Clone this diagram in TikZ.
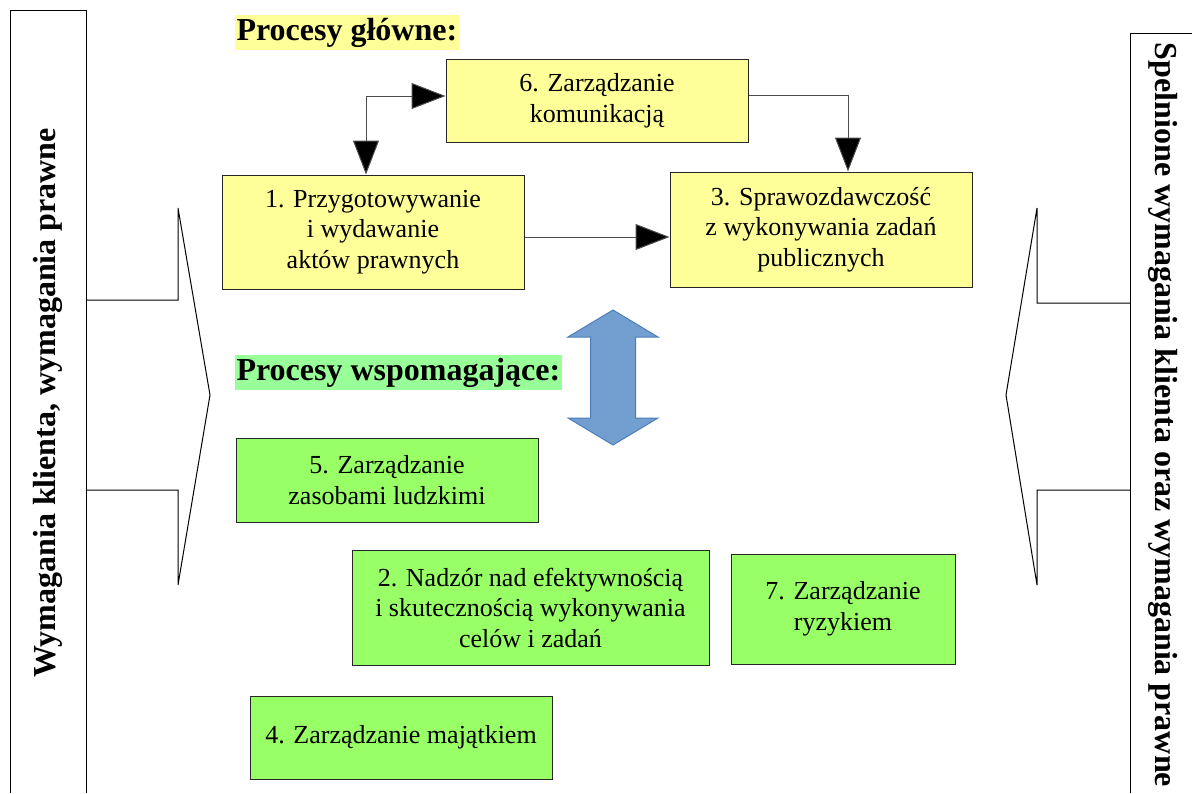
\documentclass[tikz,border=0pt]{standalone}
\usepackage{fontspec}
\setmainfont{Liberation Serif}
\usetikzlibrary{arrows.meta}
\definecolor{boxyellow}{HTML}{FFFF99}
\definecolor{boxgreen}{HTML}{99FF66}
\definecolor{headgreen}{HTML}{99FF99}
\definecolor{arrowblue}{HTML}{729FCF}
\definecolor{arrowedge}{HTML}{4A7EBB}

\begin{document}
\begin{tikzpicture}
	[x=1pt, y=-1pt, line width=1pt,
	 every node/.style={font=\fontsize{26}{30.5}\selectfont, align=center},
	 mainbox/.style={draw=black!85, fill=boxyellow, inner sep=0pt},
	 supportbox/.style={draw=black!85, fill=boxgreen, inner sep=0pt},
	 heading/.style={font=\fontsize{32}{36}\selectfont\bfseries, inner xsep=2pt, inner ysep=0pt, minimum height=35pt, anchor=west},
	 sidetext/.style={font=\fontsize{32}{36}\selectfont\bfseries},
	 flow/.style={draw=black!70, -{Triangle[length=34pt,width=26pt,fill=black]}}]
	\useasboundingbox (0,0) rectangle (1192,793);

	% side frames
	\draw (86,793) -- (86,10) -- (10,10) -- (10,793);
	\draw (1130,793) -- (1130,33) -- (1192,33);
	\node[sidetext, rotate=90] (input) at (48,403) {Wymagania klienta, wymagania prawne};
	\node[sidetext, rotate=-90] (output) at (1163,415) {Spelnione wymagania klienta oraz wymagania prawne};

	% big open arrows
	\draw (86,300) -- (178,300) -- (178,208) -- (210,395) -- (178,585) -- (178,490) -- (86,490);
	\draw (1130,303) -- (1037,303) -- (1037,208) -- (1006,395) -- (1037,585) -- (1037,490) -- (1130,490);

	% headings
	\node[heading, fill=boxyellow] (mainhead) at (234,32.5) {Procesy główne:};
	\node[heading, fill=headgreen] (supphead) at (234,372.5) {Procesy wspomagające:};

	% main processes
	\node[mainbox, minimum width=302pt, minimum height=83pt] (p6) at (597,100.5) {6. Zarządzanie\\komunikacją};
	\node[mainbox, minimum width=302pt, minimum height=114pt] (p1) at (373,232) {1. Przygotowywanie\\i wydawanie\\aktów prawnych};
	\node[mainbox, minimum width=302pt, minimum height=115pt] (p3) at (821,229.5) {3. Sprawozdawczość\\z wykonywania zadań\\publicznych};

	\coordinate (c61) at (366,96);
	\coordinate (c63) at (848,95);
	\coordinate (c13) at (524,237);
	\draw[flow, {Triangle[length=34pt,width=26pt,fill=black]}-{Triangle[length=34pt,width=26pt,fill=black]}]
		(c61 |- p1.north) -- (c61) -- (c61 -| p6.west);
	\draw[flow] (c63 -| p6.east) -- (c63) -- (c63 |- p3.north);
	\draw[flow] (c13 -| p1.east) -- (c13 -| p3.west);

	% link between main and supporting processes
	\draw[fill=arrowblue, draw=arrowedge] (613,310) -- (658,337) -- (635.5,337) -- (635.5,418) -- (658,418)
		-- (613,445) -- (568,418) -- (590.5,418) -- (590.5,337) -- (568,337) -- cycle;

	% supporting processes
	\node[supportbox, minimum width=302pt, minimum height=84pt] (p5) at (387,480) {5. Zarządzanie\\zasobami ludzkimi};
	\node[supportbox, minimum width=357pt, minimum height=115pt] (p2) at (530.5,607.5) {2. Nadzór nad efektywnością\\i skutecznością wykonywania\\celów i zadań};
	\node[supportbox, minimum width=224pt, minimum height=110pt] (p7) at (843,609) {7. Zarządzanie\\ryzykiem};
	\node[supportbox, minimum width=302pt, minimum height=83pt] (p4) at (401,737.5) {4. Zarządzanie majątkiem};
\end{tikzpicture}
\end{document}
